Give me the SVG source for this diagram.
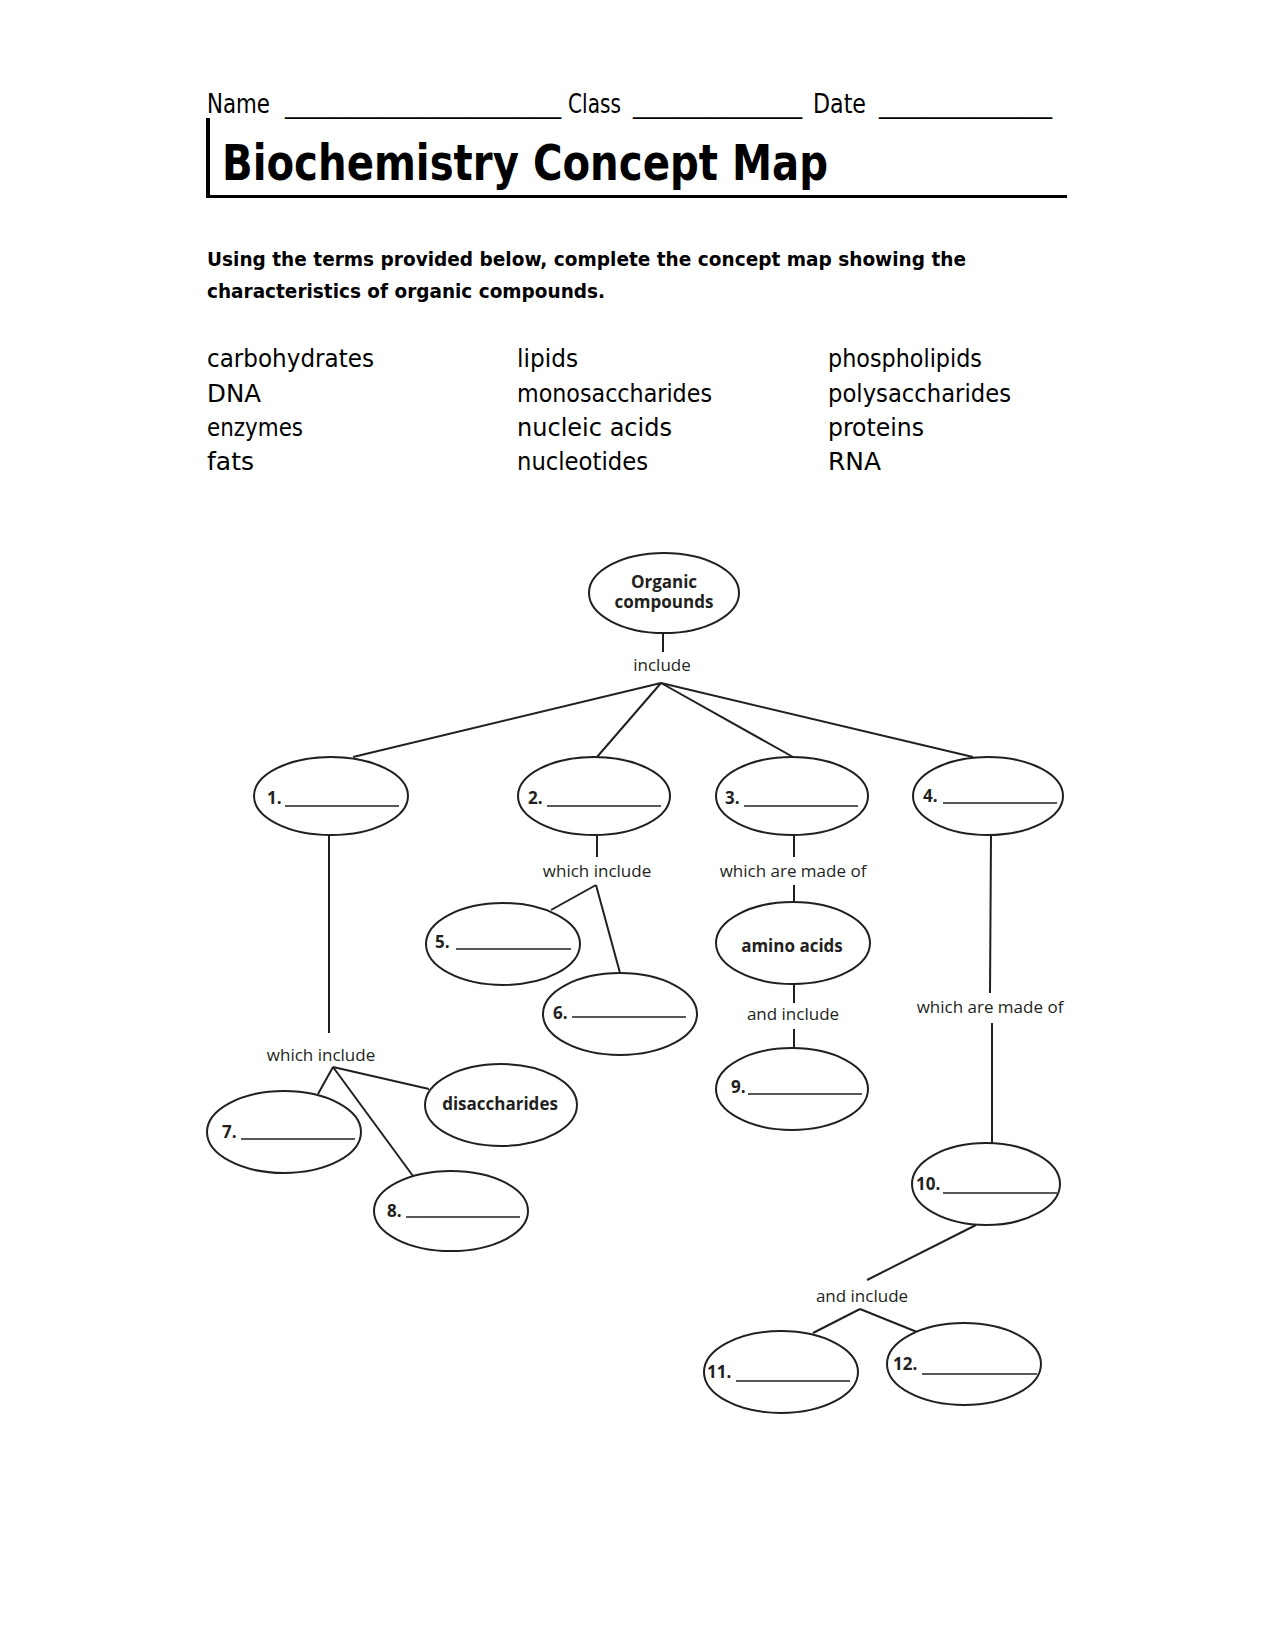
<svg xmlns="http://www.w3.org/2000/svg" width="1275" height="1650" viewBox="0 0 1275 1650">
<style>
.hd{font-family:"DejaVu Sans","Liberation Sans",sans-serif;fill:#000}
.lbl{font-family:"Open Sans","Noto Sans",sans-serif;font-size:17px;fill:#231f20;text-anchor:middle}
.num{font-family:"Open Sans","Noto Sans",sans-serif;font-size:17px;font-weight:bold;fill:#231f20}
.bold{font-family:"Open Sans","Noto Sans",sans-serif;font-size:17px;font-weight:bold;fill:#231f20;text-anchor:middle}
.ell{fill:#fff;stroke:#231f20;stroke-width:2}
.blank{stroke:#231f20;stroke-width:1.6}
.con{stroke:#231f20;stroke-width:2;fill:none}
.term{font-size:25px}
</style>
<rect width="1275" height="1650" fill="#fff"/>
<g id="header">
<text class="hd" x="207" y="113" font-size="26" textLength="63" lengthAdjust="spacingAndGlyphs">Name</text>
<text class="hd" x="285" y="113" font-size="26" textLength="276" lengthAdjust="spacingAndGlyphs">__________________</text>
<text class="hd" x="568" y="113" font-size="26" textLength="53" lengthAdjust="spacingAndGlyphs">Class</text>
<text class="hd" x="633" y="113" font-size="26" textLength="169" lengthAdjust="spacingAndGlyphs">___________</text>
<text class="hd" x="813" y="113" font-size="26" textLength="53" lengthAdjust="spacingAndGlyphs">Date</text>
<text class="hd" x="879" y="113" font-size="26" textLength="173" lengthAdjust="spacingAndGlyphs">___________</text>
<rect x="206" y="118" width="4" height="79" fill="#000"/>
<rect x="206" y="195" width="861" height="3" fill="#000"/>
<text class="hd" x="222" y="180" font-size="50" font-weight="bold" textLength="606" lengthAdjust="spacingAndGlyphs">Biochemistry Concept Map</text>
<text class="hd" x="207" y="266" font-size="20" font-weight="bold" textLength="759" lengthAdjust="spacingAndGlyphs">Using the terms provided below, complete the concept map showing the</text>
<text class="hd" x="207" y="298" font-size="20" font-weight="bold" textLength="398" lengthAdjust="spacingAndGlyphs">characteristics of organic compounds.</text>
</g>
<g id="terms" class="hd term">
<text x="207" y="367" textLength="167" lengthAdjust="spacingAndGlyphs">carbohydrates</text>
<text x="207" y="402" textLength="54" lengthAdjust="spacingAndGlyphs">DNA</text>
<text x="207" y="436" textLength="96" lengthAdjust="spacingAndGlyphs">enzymes</text>
<text x="207" y="470" textLength="47" lengthAdjust="spacingAndGlyphs">fats</text>
<text x="517" y="367" textLength="61" lengthAdjust="spacingAndGlyphs">lipids</text>
<text x="517" y="402" textLength="195" lengthAdjust="spacingAndGlyphs">monosaccharides</text>
<text x="517" y="436" textLength="155" lengthAdjust="spacingAndGlyphs">nucleic acids</text>
<text x="517" y="470" textLength="131" lengthAdjust="spacingAndGlyphs">nucleotides</text>
<text x="828" y="367" textLength="154" lengthAdjust="spacingAndGlyphs">phospholipids</text>
<text x="828" y="402" textLength="183" lengthAdjust="spacingAndGlyphs">polysaccharides</text>
<text x="828" y="436" textLength="96" lengthAdjust="spacingAndGlyphs">proteins</text>
<text x="828" y="470" textLength="53" lengthAdjust="spacingAndGlyphs">RNA</text>
</g>
<g id="connectors">
<line class="con" x1="663" y1="633" x2="663" y2="652"/>
<line class="con" x1="661" y1="683" x2="353" y2="757"/>
<line class="con" x1="661" y1="683" x2="597" y2="757"/>
<line class="con" x1="661" y1="683" x2="793" y2="757"/>
<line class="con" x1="661" y1="683" x2="973" y2="757"/>
<line class="con" x1="329" y1="835" x2="329" y2="1033"/>
<line class="con" x1="333" y1="1067" x2="318" y2="1094"/>
<line class="con" x1="333" y1="1067" x2="413" y2="1176"/>
<line class="con" x1="333" y1="1067" x2="429" y2="1089"/>
<line class="con" x1="597" y1="835" x2="597" y2="857"/>
<line class="con" x1="596" y1="885" x2="551" y2="910"/>
<line class="con" x1="596" y1="885" x2="620" y2="973"/>
<line class="con" x1="794" y1="835" x2="794" y2="857"/>
<line class="con" x1="794" y1="885" x2="794" y2="902"/>
<line class="con" x1="794" y1="984" x2="794" y2="1003"/>
<line class="con" x1="794" y1="1029" x2="794" y2="1048"/>
<line class="con" x1="991" y1="835" x2="990" y2="993"/>
<line class="con" x1="992" y1="1023" x2="992" y2="1143"/>
<line class="con" x1="976" y1="1225" x2="867" y2="1280"/>
<line class="con" x1="860" y1="1309" x2="813" y2="1333"/>
<line class="con" x1="860" y1="1309" x2="917" y2="1332"/>
</g>
<g id="link-labels">
<text class="lbl" x="662" y="671">include</text>
<text class="lbl" x="321" y="1061">which include</text>
<text class="lbl" x="597" y="877">which include</text>
<text class="lbl" x="793" y="877">which are made of</text>
<text class="lbl" x="793" y="1020">and include</text>
<text class="lbl" x="990" y="1013">which are made of</text>
<text class="lbl" x="862" y="1302">and include</text>
</g>
<g id="organic-compounds">
<ellipse class="ell" cx="664" cy="593" rx="75" ry="40"/>
<text class="bold" x="664" y="588">Organic</text>
<text class="bold" x="664" y="608">compounds</text>
</g>
<g id="node1"><ellipse class="ell" cx="331" cy="796" rx="77" ry="39"/><text class="num" x="267" y="804">1.</text><line class="blank" x1="285" y1="806" x2="399" y2="806"/></g>
<g id="node2"><ellipse class="ell" cx="594" cy="796" rx="76" ry="39"/><text class="num" x="528" y="804">2.</text><line class="blank" x1="547" y1="806" x2="661" y2="806"/></g>
<g id="node3"><ellipse class="ell" cx="792" cy="796" rx="76" ry="39"/><text class="num" x="725" y="804">3.</text><line class="blank" x1="744" y1="806" x2="858" y2="806"/></g>
<g id="node4"><ellipse class="ell" cx="988" cy="796" rx="75" ry="39"/><text class="num" x="923" y="802">4.</text><line class="blank" x1="943" y1="803" x2="1057" y2="803"/></g>
<g id="node5"><ellipse class="ell" cx="503" cy="944" rx="77" ry="41"/><text class="num" x="435" y="948">5.</text><line class="blank" x1="456" y1="949" x2="571" y2="949"/></g>
<g id="node6"><ellipse class="ell" cx="620" cy="1014" rx="77" ry="41"/><text class="num" x="553" y="1019">6.</text><line class="blank" x1="572" y1="1017" x2="686" y2="1017"/></g>
<g id="amino-acids"><ellipse class="ell" cx="793" cy="943" rx="77" ry="41"/><text class="bold" x="792" y="952">amino acids</text></g>
<g id="node9"><ellipse class="ell" cx="792" cy="1089" rx="76" ry="41"/><text class="num" x="731" y="1093">9.</text><line class="blank" x1="748" y1="1094" x2="862" y2="1094"/></g>
<g id="node7"><ellipse class="ell" cx="284" cy="1132" rx="77" ry="41"/><text class="num" x="222" y="1138">7.</text><line class="blank" x1="241" y1="1139" x2="355" y2="1139"/></g>
<g id="node8"><ellipse class="ell" cx="451" cy="1211" rx="77" ry="40"/><text class="num" x="387" y="1217">8.</text><line class="blank" x1="406" y1="1217" x2="520" y2="1217"/></g>
<g id="disaccharides"><ellipse class="ell" cx="501" cy="1105" rx="76" ry="41"/><text class="bold" x="500" y="1110">disaccharides</text></g>
<g id="node10"><ellipse class="ell" cx="986" cy="1184" rx="74" ry="41"/><text class="num" x="916" y="1190">10.</text><line class="blank" x1="943" y1="1193" x2="1057" y2="1193"/></g>
<g id="node11"><ellipse class="ell" cx="781" cy="1372" rx="77" ry="41"/><text class="num" x="707" y="1378">11.</text><line class="blank" x1="736" y1="1381" x2="850" y2="1381"/></g>
<g id="node12"><ellipse class="ell" cx="964" cy="1364" rx="77" ry="41"/><text class="num" x="893" y="1370">12.</text><line class="blank" x1="922" y1="1374" x2="1037" y2="1374"/></g>
</svg>
